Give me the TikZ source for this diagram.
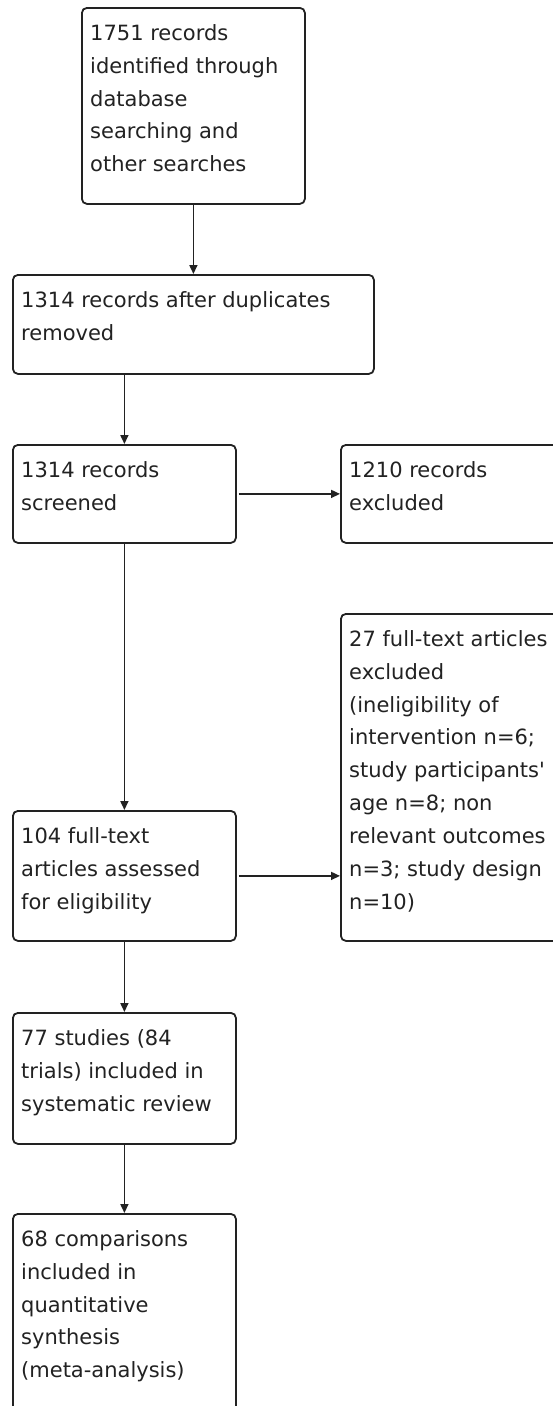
\documentclass[tikz,border=0pt]{standalone}
\usepackage{fontspec}
\setmainfont{DejaVu Sans}
\usetikzlibrary{arrows.meta,calc}
\definecolor{linec}{HTML}{222222}
\definecolor{textc}{HTML}{222222}
\begin{document}
\begin{tikzpicture}[x=1pt,y=-1pt,
  box/.style={draw=linec, line width=1.8pt, rounded corners=5pt, inner sep=0pt, anchor=north west, fill=white},
  txt/.style={anchor=north west, inner sep=0pt, align=left, text=textc, font=\fontsize{21}{32.9}\selectfont},
  conn/.style={draw=linec, line width=1.6pt, -{Triangle[length=9pt,width=8pt]}}]
\useasboundingbox (0,0) rectangle (553,1406);
\fill[white] (0,0) rectangle (553,1406);
\clip (0,0) rectangle (553,1406);
% boxes
\node[box, minimum width=223pt, minimum height=196pt] (b1) at (81,7) {};
\node[box, minimum width=361pt, minimum height=99pt] (b2) at (12,274) {};
\node[box, minimum width=223pt, minimum height=98pt] (b3) at (12,444) {};
\node[box, minimum width=240pt, minimum height=98pt] (b4) at (340,444) {};
\node[box, minimum width=240pt, minimum height=327pt] (b27) at (340,613) {};
\node[box, minimum width=223pt, minimum height=130pt] (b104) at (12,810) {};
\node[box, minimum width=223pt, minimum height=131pt] (b77) at (12,1012) {};
\node[box, minimum width=223pt, minimum height=240pt] (b68) at (12,1213) {};
% texts
\node[txt] (t1) at ($(b1.north west)+(9,10)$) {\strut 1751 records\\identified through\\database\\searching and\\other searches};
\node[txt] (t2) at ($(b2.north west)+(9,10)$) {\strut 1314 records after duplicates\\removed};
\node[txt] (t3) at ($(b3.north west)+(9,10)$) {\strut 1314 records\\screened};
\node[txt] (t4) at ($(b4.north west)+(9,10)$) {\strut 1210 records\\excluded};
\node[txt] (t27) at ($(b27.north west)+(9,10)$) {\strut 27 full-text articles\\excluded\\(ineligibility of\\intervention n=6;\\study participants\textquotesingle\\age n=8; non\\relevant outcomes\\n=3; study design\\n=10)};
\node[txt] (t104) at ($(b104.north west)+(9,10)$) {\strut 104 full-text\\articles assessed\\for eligibility};
\node[txt] (t77) at ($(b77.north west)+(9,10)$) {\strut 77 studies (84\\trials) included in\\systematic review};
\node[txt] (t68) at ($(b68.north west)+(9,10)$) {\strut 68 comparisons\\included in\\quantitative\\synthesis\\(meta-analysis)};
% connectors
\draw[conn] (b1.south) -- (b1.south |- b2.north);
\draw[conn] (b3.north |- b2.south) -- (b3.north);
\draw[conn, shorten <=2pt] (b3.east) -- (b3.east -| b4.west);
\draw[conn] (b3.south) -- (b104.north);
\draw[conn, shorten <=2pt] (b104.east) -- (b104.east -| b27.west);
\draw[conn] (b104.south) -- (b77.north);
\draw[conn] (b77.south) -- (b68.north);
\end{tikzpicture}
\end{document}
